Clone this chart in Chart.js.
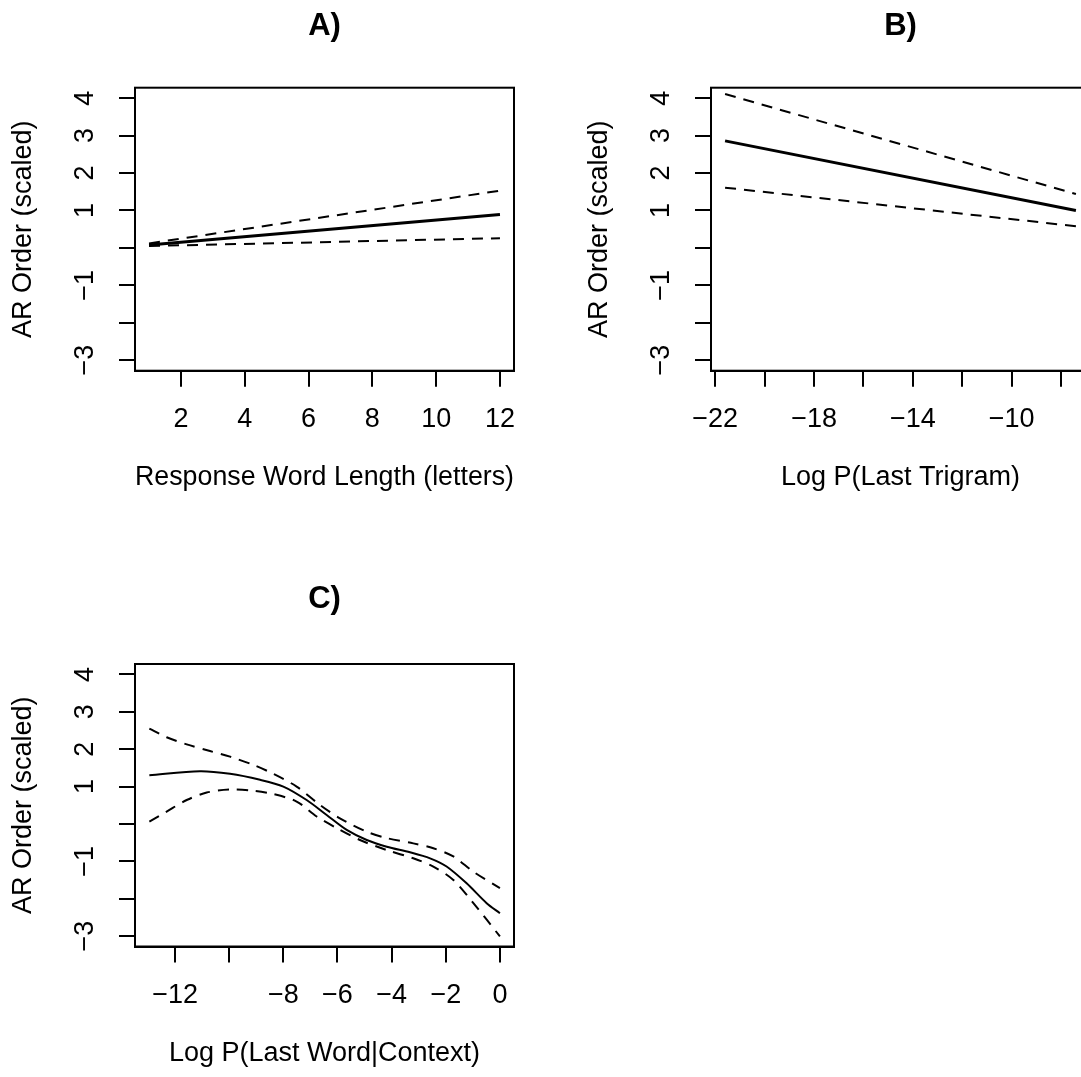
<!DOCTYPE html>
<html>
<head>
<meta charset="utf-8">
<script src="https://cdn.jsdelivr.net/npm/chart.js@4.4.1/dist/chart.umd.min.js"></script>
<style>
html, body { margin: 0; padding: 0; background: #ffffff; }
#wrap { position: relative; width: 1081px; height: 1077px; overflow: hidden; background: #ffffff; }
canvas { position: absolute; }
</style>
</head>
<body>
<div id="wrap">
  <canvas id="cA" width="540" height="540" style="left:0px;top:0px;width:540px;height:540px"></canvas>
  <canvas id="cB" width="560" height="540" style="left:540px;top:0px;width:560px;height:540px"></canvas>
  <canvas id="cC" width="540" height="537" style="left:0px;top:540px;width:540px;height:537px"></canvas>
</div>
<script>
// ---------- shared y axis ----------
const yTicks = [-3, -2, -1, 0, 1, 2, 3, 4];
const yTickLabels = ['\u22123', '', '\u22121', '', '1', '2', '3', '4'];
const yTitle = 'AR Order (scaled)';
const yRange = [-3.28, 4.28];

// ---------- Panel A ----------
const aTitle = 'A)';
const aXLabel = 'Response Word Length (letters)';
const aXRange = [0.56, 12.44];
const aXTicks = [2, 4, 6, 8, 10, 12];
const aXTickLabels = ['2', '4', '6', '8', '10', '12'];
const aX = [1, 12];
const aFit = [0.08, 0.89];
const aUpper = [0.12, 1.53];
const aLower = [0.05, 0.26];

// ---------- Panel B ----------
const bTitle = 'B)';
const bXLabel = 'Log P(Last Trigram)';
const bXRange = [-22.17, -6.83];
const bXTicks = [-22, -20, -18, -16, -14, -12, -10, -8];
const bXTickLabels = ['\u221222', '', '\u221218', '', '\u221214', '', '\u221210', ''];
const bX = [-21.6, -7.4];
const bFit = [2.86, 1.0];
const bUpper = [4.11, 1.44];
const bLower = [1.61, 0.58];

// ---------- Panel C ----------
const cTitle = 'C)';
const cXLabel = 'Log P(Last Word|Context)';
const cXRange = [-13.48, 0.52];
const cXTicks = [-12, -10, -8, -6, -4, -2, 0];
const cXTickLabels = ['\u221212', '', '\u22128', '\u22126', '\u22124', '\u22122', '0'];
const cFitX = [-12.95, -11.08, -9.97, -8.86, -8.0, -7.14, -6.4, -5.66, -4.92, -4.18, -3.32, -2.58, -1.97, -1.23, -0.49, 0];
const cFit = [1.30, 1.41, 1.34, 1.18, 1.0, 0.64, 0.24, -0.16, -0.43, -0.61, -0.76, -0.92, -1.14, -1.59, -2.12, -2.39];
const cUpperX = [-12.95, -12.31, -11.57, -10.71, -9.97, -9.11, -8.37, -7.51, -6.65, -5.91, -4.92, -4.18, -3.20, -2.46, -1.72, -0.98, 0];
const cUpper = [2.55, 2.32, 2.13, 1.95, 1.80, 1.58, 1.34, 1.0, 0.51, 0.15, -0.21, -0.38, -0.52, -0.65, -0.87, -1.28, -1.72];
const cLowerX = [-12.95, -12.31, -11.57, -10.83, -9.97, -9.11, -8.37, -7.51, -6.77, -6.03, -5.17, -4.18, -3.20, -2.46, -1.72, -0.98, 0];
const cLower = [0.06, 0.33, 0.64, 0.84, 0.92, 0.89, 0.80, 0.60, 0.20, -0.11, -0.43, -0.70, -0.92, -1.14, -1.50, -2.12, -3.01];

// ---------- helpers ----------
const FONT = '"Liberation Sans", Arial, Helvetica, sans-serif';
const FS = 27;
Chart.defaults.font.family = FONT;
Chart.defaults.font.size = FS;
Chart.defaults.color = '#000000';

function pts(xs, ys) { return xs.map((x, i) => ({ x: x, y: ys[i] })); }

const framePlugin = {
  id: 'frame',
  afterDraw(chart) {
    const a = chart.chartArea, ctx = chart.ctx;
    ctx.save();
    ctx.strokeStyle = '#000';
    ctx.lineWidth = 2;
    ctx.strokeRect(a.left, a.top, a.right - a.left, a.bottom - a.top);
    ctx.restore();
  }
};

function lineDs(data, width, dashed, smooth) {
  return {
    data: data,
    borderColor: '#000000',
    backgroundColor: '#000000',
    borderWidth: width,
    borderDash: dashed ? [11, 8] : [],
    borderCapStyle: 'butt',
    borderJoinStyle: 'round',
    pointRadius: 0,
    fill: false,
    tension: smooth ? 0.3 : 0,
    cubicInterpolationMode: 'default'
  };
}

function makePanel(id, p) {
  const ctx = document.getElementById(id);
  return new Chart(ctx, {
    type: 'line',
    data: { datasets: p.datasets },
    plugins: [framePlugin],
    options: {
      responsive: false,
      animation: false,
      devicePixelRatio: 1,
      events: [],
      layout: { padding: p.pad },
      plugins: {
        legend: { display: false },
        tooltip: { enabled: false },
        title: {
          display: true, text: p.title, fullSize: false,
          font: { size: 31, weight: 'bold', family: FONT }, color: '#000',
          padding: p.titlePad
        }
      },
      scales: {
        x: {
          type: 'linear', position: 'bottom',
          min: p.xRange[0], max: p.xRange[1],
          afterBuildTicks: s => { s.ticks = p.xTicks.map(v => ({ value: v })); },
          afterFit: s => { s.height = 123.5; },
          ticks: {
            autoSkip: false, maxRotation: 0, minRotation: 0, padding: 17.1,
            font: { size: FS, family: FONT }, color: '#000',
            callback: v => { const i = p.xTicks.indexOf(v); return i >= 0 ? p.xTickLabels[i] : ''; }
          },
          grid: { display: true, drawOnChartArea: false, drawTicks: true, tickLength: 16, color: '#000', lineWidth: 2 },
          border: { display: true, color: '#000', width: 2 },
          title: { display: true, text: p.xLabel, font: { size: FS, family: FONT }, color: '#000', padding: { top: 0, bottom: 0 } }
        },
        y: {
          type: 'linear', position: 'left',
          min: yRange[0], max: yRange[1],
          afterBuildTicks: s => { s.ticks = yTicks.map(v => ({ value: v })); },
          afterFit: s => { s.width = 135; },
          ticks: {
            autoSkip: false, minRotation: 90, maxRotation: 90, crossAlign: 'center', padding: 17.6,
            font: { size: FS, family: FONT }, color: '#000',
            callback: v => { const i = yTicks.indexOf(v); return i >= 0 ? yTickLabels[i] : ''; }
          },
          grid: { display: true, drawOnChartArea: false, drawTicks: true, tickLength: 16, color: '#000', lineWidth: 2 },
          border: { display: true, color: '#000', width: 2 },
          title: { display: true, text: yTitle, font: { size: FS, family: FONT }, color: '#000', padding: { top: 7.8, bottom: 0 } }
        }
      }
    }
  });
}

makePanel('cA', {
  title: aTitle, xLabel: aXLabel, xRange: aXRange, xTicks: aXTicks, xTickLabels: aXTickLabels,
  pad: { left: 0, top: 0, right: 26, bottom: 45.8 },
  titlePad: { top: 7.4, bottom: 43.1 },
  datasets: [
    lineDs(pts(aX, aFit), 3, false, false),
    lineDs(pts(aX, aUpper), 2, true, false),
    lineDs(pts(aX, aLower), 2, true, false)
  ]
});

makePanel('cB', {
  title: bTitle, xLabel: bXLabel, xRange: bXRange, xTicks: bXTicks, xTickLabels: bXTickLabels,
  pad: { left: 36, top: 0, right: 10, bottom: 45.8 },
  titlePad: { top: 7.4, bottom: 43.1 },
  datasets: [
    lineDs(pts(bX, bFit), 3, false, false),
    lineDs(pts(bX, bUpper), 2, true, false),
    lineDs(pts(bX, bLower), 2, true, false)
  ]
});

makePanel('cC', {
  title: cTitle, xLabel: cXLabel, xRange: cXRange, xTicks: cXTicks, xTickLabels: cXTickLabels,
  pad: { left: 0, top: 0, right: 26, bottom: 7.0 },
  titlePad: { top: 40.4, bottom: 46.4 },
  datasets: [
    lineDs(pts(cFitX, cFit), 2, false, true),
    lineDs(pts(cUpperX, cUpper), 2, true, true),
    lineDs(pts(cLowerX, cLower), 2, true, true)
  ]
});
</script>
</body>
</html>
